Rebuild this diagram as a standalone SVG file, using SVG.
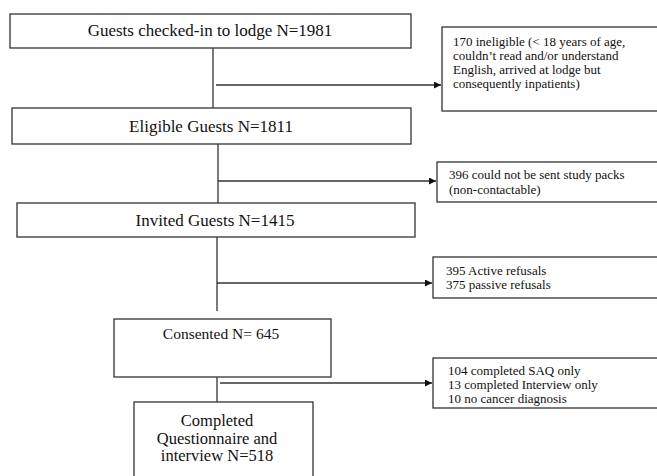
<svg xmlns="http://www.w3.org/2000/svg" width="657" height="476" viewBox="0 0 657 476">
<style>
.box{fill:#fff;stroke:#333;stroke-width:1.3}
.ln{fill:none;stroke:#333;stroke-width:1.3}
.t{font-family:"Liberation Serif","Times New Roman",serif;fill:#111}
.m{font-size:17px;text-anchor:middle}
.s{font-size:13px}
</style>
<defs>
<marker id="ah" viewBox="0 0 10 10" refX="10" refY="5" markerWidth="7" markerHeight="7" markerUnits="userSpaceOnUse" orient="auto">
<path d="M0,0 L10,5 L0,10 z" fill="#111"/>
</marker>
</defs>
<rect width="657" height="476" fill="#fff"/>
<g id="connectors">
<line class="ln" x1="213" y1="48" x2="213" y2="108"/>
<line class="ln" x1="216" y1="85" x2="441" y2="85" marker-end="url(#ah)"/>
<line class="ln" x1="218" y1="144" x2="218" y2="203"/>
<line class="ln" x1="218" y1="181" x2="436" y2="181" marker-end="url(#ah)"/>
<line class="ln" x1="217" y1="237" x2="217" y2="311"/>
<line class="ln" x1="217" y1="283" x2="432" y2="283" stroke-width="1.6" marker-end="url(#ah)"/>
<line class="ln" x1="217" y1="377" x2="217" y2="402"/>
<line class="ln" x1="220" y1="383" x2="432" y2="383" stroke-width="2" marker-end="url(#ah)"/>
</g>
<g id="n1">
<rect class="box" x="10" y="14" width="401" height="34"/>
<text class="t m" x="210" y="36">Guests checked-in to lodge N=1981</text>
</g>
<g id="n2">
<rect class="box" x="442" y="27" width="220" height="84"/>
<text class="t s" x="453" y="46">170 ineligible (&lt; 18 years of age,</text>
<text class="t s" x="453" y="60">couldn’t read and/or understand</text>
<text class="t s" x="453" y="74">English, arrived at lodge but</text>
<text class="t s" x="453" y="88">consequently inpatients)</text>
</g>
<g id="n3">
<rect class="box" x="12" y="108" width="399" height="36"/>
<text class="t m" x="211" y="132">Eligible Guests N=1811</text>
</g>
<g id="n4">
<rect class="box" x="437" y="162" width="225" height="40"/>
<text class="t s" x="449" y="179">396 could not be sent study packs</text>
<text class="t s" x="449" y="194">(non-contactable)</text>
</g>
<g id="n5">
<rect class="box" x="17" y="203" width="398" height="34"/>
<text class="t m" x="215" y="226">Invited Guests N=1415</text>
</g>
<g id="n6">
<rect class="box" x="433" y="257" width="229" height="41"/>
<text class="t s" x="446" y="275">395 Active refusals</text>
<text class="t s" x="446" y="289">375 passive refusals</text>
</g>
<g id="n7">
<rect class="box" x="114" y="319" width="217" height="58"/>
<text class="t m" x="221" y="339" style="font-size:15.5px">Consented N= 645</text>
</g>
<g id="n8">
<rect class="box" x="433" y="358" width="229" height="50"/>
<text class="t s" x="448" y="375">104 completed SAQ only</text>
<text class="t s" x="448" y="389">13 completed Interview only</text>
<text class="t s" x="448" y="403">10 no cancer diagnosis</text>
</g>
<g id="n9">
<rect class="box" x="134" y="402" width="179" height="90"/>
<text class="t m" x="217" y="426" style="font-size:16.5px">Completed</text>
<text class="t m" x="217" y="443.5" style="font-size:16.5px">Questionnaire and</text>
<text class="t m" x="217" y="461" style="font-size:16.5px">interview N=518</text>
</g>
</svg>
